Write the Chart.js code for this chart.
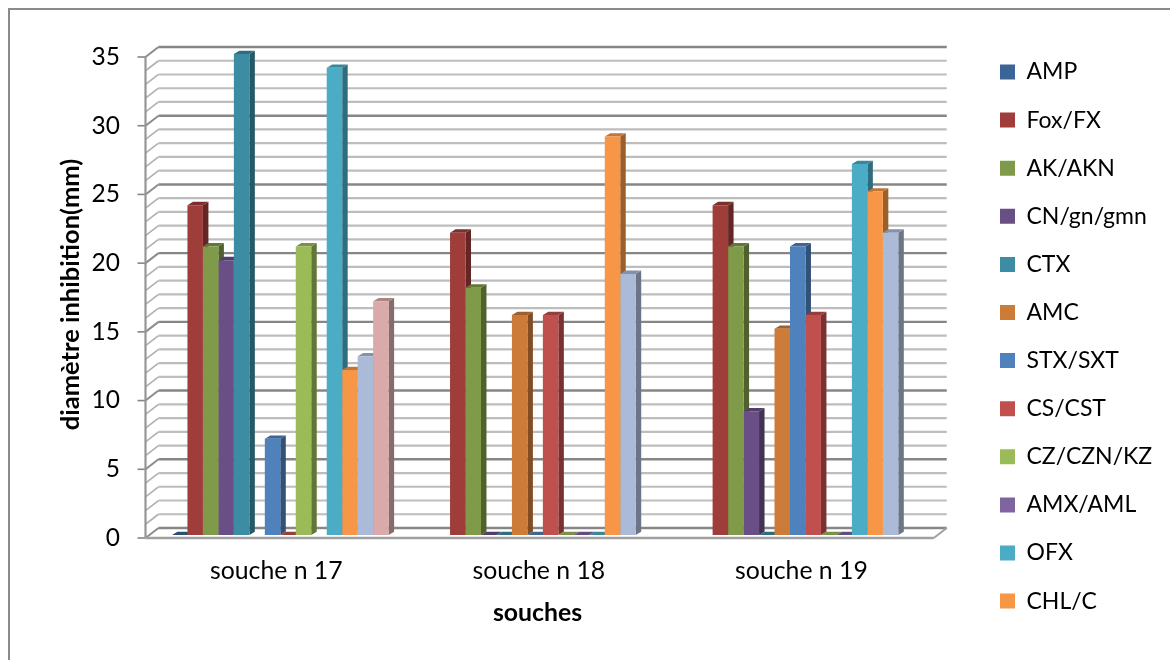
<!DOCTYPE html>
<html>
<head>
<meta charset="utf-8">
<style>
    body { margin: 0; background: #fff; }
    canvas { display: block; }
</style>
<script src="https://cdn.jsdelivr.net/npm/chart.js@4"></script>
</head>
<body>
<canvas id="inhibitionChart" width="1170" height="660"></canvas>
<script>
const categories = ["souche n 17", "souche n 18", "souche n 19"];
const yTicks = [0, 5, 10, 15, 20, 25, 30, 35];

// null = nothing drawn in the picture, 0 = flat sliver on the floor
const amp = [0, null, null];
const foxFx = [24, 22, 24];
const akAkn = [21, 18, 21];
const cnGnGmn = [20, 0, 9];
const ctx_ = [35, 0, 0];
const amc = [null, 16, 15];
const stxSxt = [7, 0, 21];
const csCst = [0, 16, 16];
const czCznKz = [21, 0, 0];
const amxAml = [null, 0, 0];
const ofx = [34, 0, 27];
const chlC = [12, 29, 25];
const unnamed13 = [13, 19, 22]; // legend is cut off in the reference
const unnamed14 = [17, null, null];

const seriesNames = ["AMP", "Fox/FX", "AK/AKN", "CN/gn/gmn", "CTX", "AMC", "STX/SXT", "CS/CST", "CZ/CZN/KZ", "AMX/AML", "OFX", "CHL/C", "", ""];
const seriesValues = [amp, foxFx, akAkn, cnGnGmn, ctx_, amc, stxSxt, csCst, czCznKz, amxAml, ofx, chlC, unnamed13, unnamed14];
const seriesColors = ["#3B6595", "#9E3D3A", "#7F9A48", "#694F86", "#3C8DA3", "#CC7B38", "#4F81BD", "#C0504D", "#9BBB59", "#8064A2", "#4BACC6", "#F79646", "#AABAD7", "#D9AAA9"];

const FONT = "Lato, sans-serif";
const DEPTH_X = 13, DEPTH_Y = 10; // floor depth
const BAR_DX = 5.5, BAR_DY = 3.3; // bar depth

function shade(hex, k) {
    const n = parseInt(hex.slice(1), 16);
    const r = Math.round((n >> 16 & 255) * k);
    const g = Math.round((n >> 8 & 255) * k);
    const b = Math.round((n & 255) * k);
    return `rgb(${r},${g},${b})`;
}

function line(c, x1, y1, x2, y2, color, width) {
    c.strokeStyle = color;
    c.lineWidth = width;
    c.beginPath();
    c.moveTo(x1, y1);
    c.lineTo(x2, y2);
    c.stroke();
}

function poly(c, color, pts) {
    c.fillStyle = color;
    c.beginPath();
    pts.forEach((p, i) => i ? c.lineTo(p[0], p[1]) : c.moveTo(p[0], p[1]));
    c.closePath();
    c.fill();
}

// Walls, floor and the depth faces of the bars, all behind the flat bars
const walls3d = {
    id: "walls3d",
    beforeDatasetsDraw(chart) {
        const c = chart.ctx;
        const area = chart.chartArea;
        const y = chart.scales.y;
        const frontL = area.left - 3.5, frontR = area.right - 3;
        c.save();

        // frame of the picture
        c.strokeStyle = "#8a8a8a";
        c.lineWidth = 2;
        c.beginPath();
        c.moveTo(9, 660);
        c.lineTo(9, 9);
        c.lineTo(1170, 9);
        c.stroke();

        for (let v = 0; v <= 35; v++) {
            const major = v % 5 === 0;
            const fy = y.getPixelForValue(v) + 3;
            const color = major ? "#868686" : "#BDBDBD";
            const w = major ? 2.4 : 2.2;
            line(c, frontL, fy, frontL + DEPTH_X, fy - DEPTH_Y, major ? "#8c8c8c" : "#b0b0b0", major ? 2 : 1.6);
            line(c, frontL + DEPTH_X, fy - DEPTH_Y, frontR + DEPTH_X, fy - DEPTH_Y, color, w);
            if (major) line(c, frontL - 8, fy, frontL, fy, "#868686", 1.6);
        }

        // left edge and floor
        line(c, frontL, y.getPixelForValue(35) + 3, frontL, y.getPixelForValue(0) + 3, "#969696", 2.2);
        const fy0 = y.getPixelForValue(0) + 3;
        line(c, frontL, fy0, frontR, fy0, "#a0a0a0", 2.4);
        line(c, frontR, fy0, frontR + DEPTH_X, fy0 - DEPTH_Y, "#a0a0a0", 2);

        // depth of each bar
        chart.data.datasets.forEach((ds, i) => {
            chart.getDatasetMeta(i).data.forEach((bar, j) => {
                if (ds.data[j] === null) return;
                const p = bar.getProps(["x", "y", "base", "width"], true);
                const l = p.x - p.width / 2, r = p.x + p.width / 2;
                poly(c, shade(seriesColors[i], 0.63), [[r, p.y], [r + BAR_DX, p.y - BAR_DY], [r + BAR_DX, p.base - BAR_DY], [r, p.base]]);
                poly(c, shade(seriesColors[i], 0.78), [[l, p.y], [l + BAR_DX, p.y - BAR_DY], [r + BAR_DX, p.y - BAR_DY], [r, p.y]]);
            });
        });
        c.restore();
    },
    afterLayout(chart) {
        // legend sits at a fixed place in the reference
        const lg = chart.legend;
        const w = lg.width, h = lg.height;
        const labels = lg.options.labels;
        lg.left = 1000 - labels.padding;
        lg.right = lg.left + w;
        lg.top = 72 - labels.font.size / 2 - labels.padding;
        lg.bottom = lg.top + h;
    },
    afterDraw(chart) {
        const c = chart.ctx;
        c.save();
        c.fillStyle = "#000";
        c.font = "bold 24.8px " + FONT;
        c.textAlign = "center";
        c.textBaseline = "middle";
        c.fillText("souches", 537.5, 613);
        c.restore();
    }
};

const datasets = seriesNames.map((name, i) => ({
    label: name,
    data: seriesValues[i],
    backgroundColor: seriesColors[i],
    borderWidth: 0
}));

new Chart(document.getElementById("inhibitionChart"), {
    type: "bar",
    data: { labels: categories, datasets: datasets },
    plugins: [walls3d],
    options: {
        responsive: false,
        animation: false,
        layout: { padding: { left: 0, top: 54, right: 46, bottom: 0 } },
        datasets: { bar: { barPercentage: 1, categoryPercentage: 0.825 } },
        plugins: {
            tooltip: { enabled: false },
            legend: {
                position: "right",
                align: "start",
                labels: {
                    boxWidth: 15,
                    boxHeight: 15,
                    padding: 25.1,
                    color: "#000",
                    font: { family: FONT, size: 23 },
                    filter: item => item.text !== ""
                }
            }
        },
        scales: {
            x: {
                grid: { display: false },
                border: { display: false },
                afterFit: scale => { scale.height = 125; },
                ticks: { color: "#000", padding: 13, labelOffset: -4, font: { family: FONT, size: 24.8 } }
            },
            y: {
                min: 0,
                max: 35,
                grid: { display: false },
                border: { display: false },
                afterFit: scale => { scale.width = 149; },
                afterBuildTicks: scale => { scale.ticks = yTicks.map(v => ({ value: v })); },
                title: {
                    display: true,
                    text: "diamètre inhibition(mm)",
                    color: "#000",
                    font: { family: FONT, size: 25.5, weight: "bold" },
                    padding: { top: 55, bottom: 0 }
                },
                ticks: { color: "#000", padding: 21, labelOffset: 3, font: { family: FONT, size: 24.5 } }
            }
        }
    }
});
</script>
</body>
</html>
